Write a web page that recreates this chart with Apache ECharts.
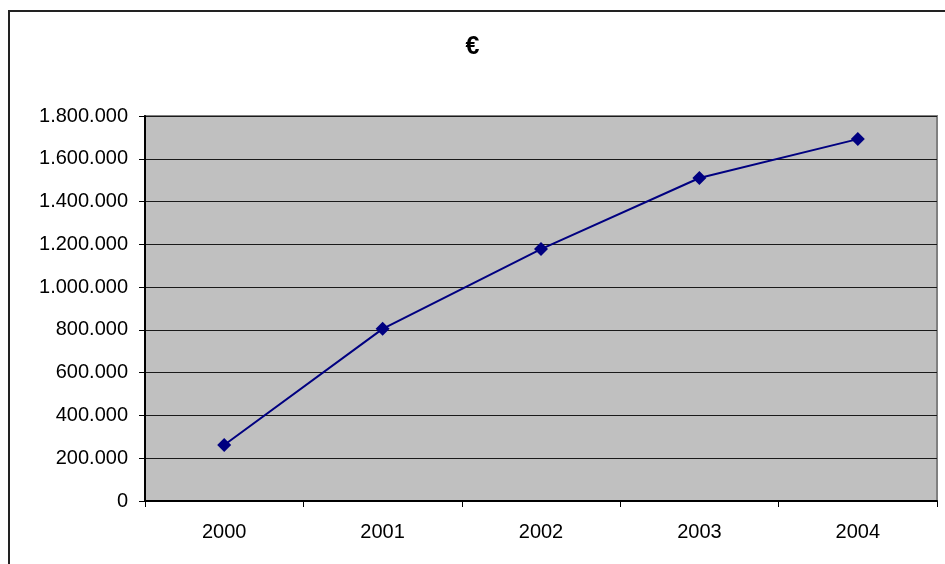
<!DOCTYPE html>
<html>
<head>
<meta charset="utf-8">
<script src="https://cdn.jsdelivr.net/npm/echarts@6/dist/echarts.min.js"></script>
<style>
  html, body { margin: 0; padding: 0; background: #fff; }
  #chart { width: 945px; height: 564px; }
</style>
</head>
<body>
<div id="chart"></div>
<script>
// Yearly totals in euro
const years = ['2000', '2001', '2002', '2003', '2004'];
const totals = [262000, 805000, 1178000, 1510000, 1692000];
const yMin = 0;
const yMax = 1800000;
const yStep = 200000;

// 1800000 -> "1.800.000"
function dotThousands(v) {
  return String(Math.round(v)).replace(/\B(?=(\d{3})+(?!\d))/g, '.');
}

const FONT = 'Arial, "Liberation Sans", sans-serif';

const chart = echarts.init(document.getElementById('chart'), null, { renderer: 'canvas' });
chart.setOption({
  animation: false,
  backgroundColor: '#ffffff',
  textStyle: { fontFamily: FONT },
  title: {
    text: '€',
    left: 'center',
    top: 30,
    textStyle: { fontSize: 25, fontWeight: 'bold', color: '#000', fontFamily: FONT }
  },
  graphic: [{
    type: 'rect',
    silent: true,
    shape: { x: 9, y: 11, width: 1000, height: 1000 },
    style: { fill: 'none', stroke: '#222', lineWidth: 2 },
    z: 100
  }],
  grid: {
    left: 145,
    top: 116,
    right: 8,
    bottom: 63,
    show: true,
    backgroundColor: '#c0c0c0',
    borderColor: '#808080',
    borderWidth: 2
  },
  xAxis: {
    type: 'category',
    data: years,
    boundaryGap: true,
    axisLine: { show: true, lineStyle: { color: '#000', width: 2 } },
    axisTick: { show: true, length: 6, inside: false, lineStyle: { color: '#000' } },
    axisLabel: { margin: 21, fontSize: 20, color: '#000' },
    splitLine: { show: false }
  },
  yAxis: {
    type: 'value',
    min: yMin,
    max: yMax,
    interval: yStep,
    axisLine: { show: true, lineStyle: { color: '#000', width: 2 } },
    axisTick: { show: true, length: 6, inside: false, lineStyle: { color: '#000' } },
    axisLabel: { margin: 17, fontSize: 20, color: '#000', formatter: dotThousands },
    splitLine: { show: true, lineStyle: { color: '#1a1a1a', width: 1 } }
  },
  series: [{
    type: 'line',
    data: totals,
    symbol: 'diamond',
    symbolSize: 14,
    lineStyle: { color: '#000080', width: 2 },
    itemStyle: { color: '#000080' }
  }]
});
</script>
</body>
</html>
